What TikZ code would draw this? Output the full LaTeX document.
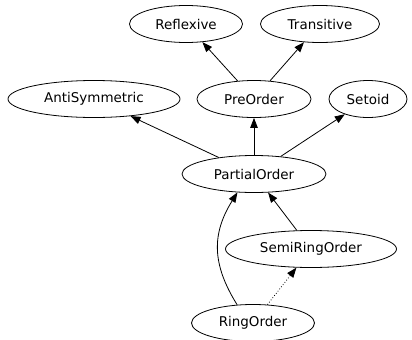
\documentclass[tikz,border=0pt]{standalone}
\usepackage{fontspec}
\setmainfont{DejaVu Sans}
\usetikzlibrary{shapes.geometric,arrows.meta}
\begin{document}
\begin{tikzpicture}[x=1bp,y=-1bp,
  cls/.style={draw, ellipse, line width=0.8bp, minimum height=37bp, inner sep=0pt,
    font=\fontsize{13.5}{16}\selectfont},
  dep/.style={line width=0.8bp, -{Triangle[length=10bp,width=7.5bp]}}]
\useasboundingbox (0,0) rectangle (412,340);
% class nodes
\node[cls, minimum width=113bp] (refl) at (186,24) {Reflexive};
\node[cls, minimum width=119bp] (trans) at (320,24) {Transitive};
\node[cls, minimum width=172bp] (anti) at (94,99) {AntiSymmetric};
\node[cls, minimum width=114bp] (pre) at (254,99) {PreOrder};
\node[cls, minimum width=78bp] (setoid) at (368,99) {Setoid};
\node[cls, minimum width=144bp] (po) at (254,174) {PartialOrder};
\node[cls, minimum width=171bp] (sro) at (311,249) {SemiRingOrder};
\node[cls, minimum width=123bp] (ro) at (253,323) {RingOrder};
% inheritance edges
\draw[dep] (pre) -- (refl);
\draw[dep] (pre) -- (trans);
\draw[dep] (po) -- (anti);
\draw[dep] (po) -- (pre);
\draw[dep] (po) -- (setoid);
\draw[dep] (sro) -- (po);
\draw[dep] (ro.131) to[out=122, in=238, looseness=1.1] (po.228);
\draw[dep, dotted] (ro) -- (sro);
\end{tikzpicture}
\end{document}
